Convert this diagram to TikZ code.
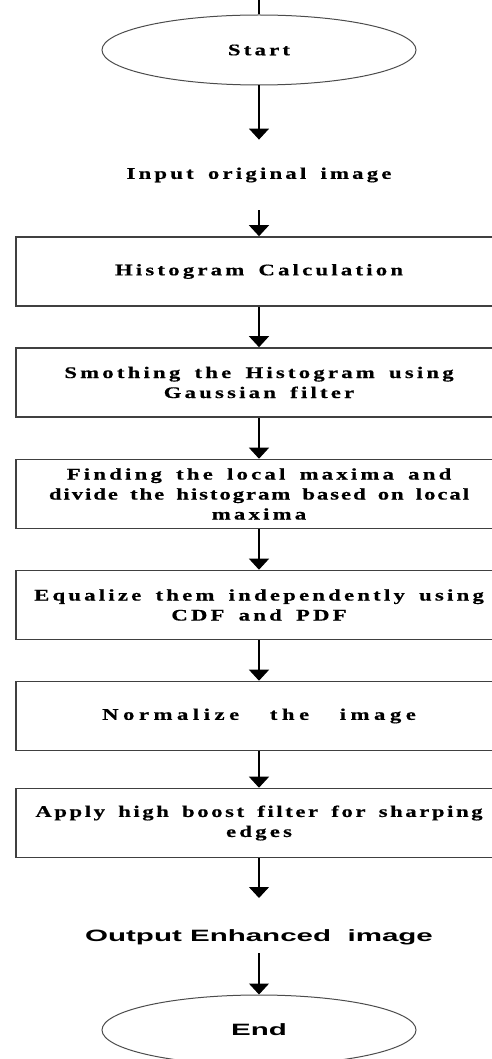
\documentclass[tikz,border=0pt]{standalone}
\usepackage{fontspec}
\usetikzlibrary{arrows.meta,shapes.geometric}
\newfontfamily\boxfont[FakeStretch=1.4,FakeBold=0.6,LetterSpace=20,WordSpace=1.6]{Liberation Serif Bold}
\newfontfamily\widefont[FakeStretch=1.4,FakeBold=0.6,LetterSpace=28,WordSpace=3]{Liberation Serif Bold}
\newfontfamily\outfont[FakeStretch=1.8]{Liberation Sans Bold}
\newcommand\tightline[2][12]{{\addfontfeature{LetterSpace=#1}#2}}
\newcommand\wideline[1]{{\widefont#1}}
\begin{document}
\begin{tikzpicture}[x=0.5pt,y=-0.5pt]
\tikzstyle{every node}+=[inner sep=0pt]
\tikzstyle{term}=[draw=black!70,line width=0.5pt,ellipse,minimum width=157pt,minimum height=35pt]
\tikzstyle{stepbox}=[draw=black!75,line width=0.8pt,minimum width=243pt,minimum height=34.5pt,align=center,font=\boxfont\fontsize{8.1}{10}\selectfont]
\tikzstyle{io}=[minimum height=35pt,font=\boxfont\fontsize{8.1}{10}\selectfont]
\tikzstyle{flow}=[-{Triangle[width=10pt,length=5.5pt]},line width=0.6pt]
\useasboundingbox (0,0) rectangle (492,1059);
\coordinate (top) at (259,0);
\node[term,font=\boxfont\fontsize{8.1}{10}\selectfont] (start) at (259,50) {Start};
\node[io] (inp) at (259,175) {Input original image};
\node[stepbox] (hist) at (259,271.5) {Histogram Calculation};
\node[stepbox] (smooth) at (259,382.5) {Smothing the Histogram using\\Gaussian filter};
\node[stepbox] (maxima) at (259,494) {Finding the local maxima and\\\tightline{divide the histogram based on local}\\maxima};
\node[stepbox] (equal) at (259,605) {Equalize them independently using\\CDF and PDF};
\node[stepbox] (norm) at (259,716) {\wideline{Normalize the image}};
\node[stepbox] (boost) at (259,823) {\tightline[16]{Apply high boost filter for sharping}\\edges};
\coordinate (outtip) at (259,898);
\node[minimum height=16pt,font=\outfont\fontsize{8.2}{10}\selectfont] (outp) at (259,937) {Output Enhanced\ \ image};
\node[term,font=\outfont\fontsize{8.2}{10}\selectfont] (stop) at (259,1030) {End};
\draw[line width=0.6pt] (top) -- (start);
\draw[flow] (start) -- (inp);
\draw[flow] (inp) -- (hist);
\draw[flow] (hist) -- (smooth);
\draw[flow] (smooth) -- (maxima);
\draw[flow] (maxima) -- (equal);
\draw[flow] (equal) -- (norm);
\draw[flow] (norm) -- (boost);
\draw[flow] (boost) -- (outtip);
\draw[flow] (outp) -- (stop);
\end{tikzpicture}
\end{document}
